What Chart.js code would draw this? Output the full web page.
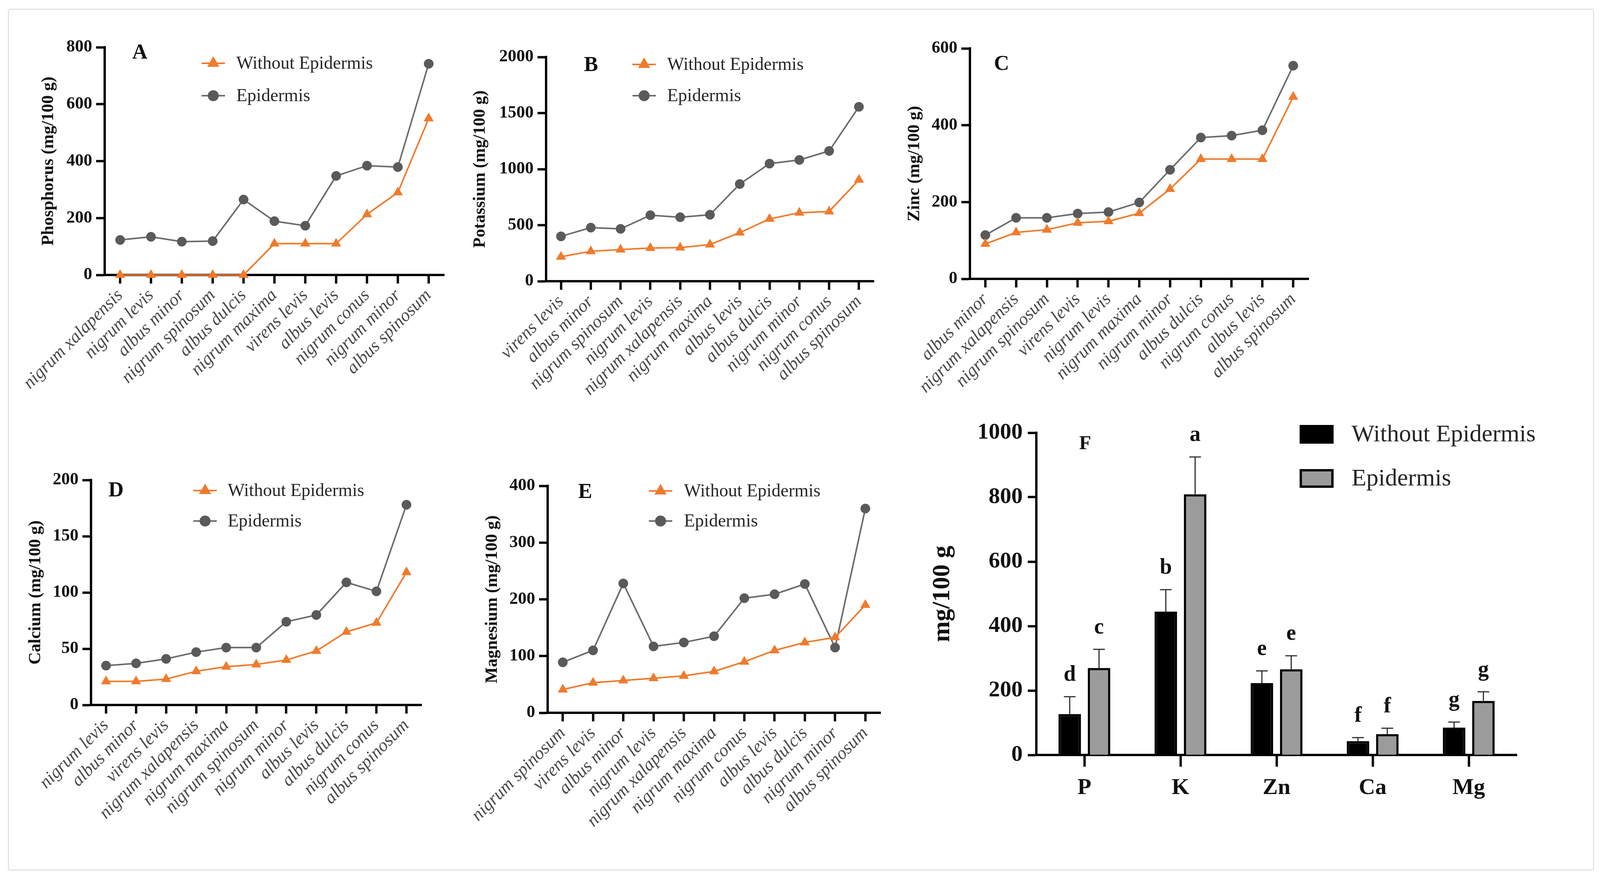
<!DOCTYPE html>
<html>
<head>
<meta charset="utf-8">
<script src="https://cdn.jsdelivr.net/npm/chart.js"></script>
<style>
html, body { margin: 0; padding: 0; background: #fff; }
body { width: 4102px; height: 2248px; position: relative; overflow: hidden; }
#frame { position: absolute; left: 20px; top: 22px; width: 4055px; height: 2201px; border: 3px solid #e3e3e3; border-radius: 6px; }
canvas { position: absolute; }
</style>
</head>
<body>
<div id="frame"></div>
<canvas id="chartA"></canvas>
<canvas id="chartB"></canvas>
<canvas id="chartC"></canvas>
<canvas id="chartD"></canvas>
<canvas id="chartE"></canvas>
<canvas id="chartF"></canvas>
<script>
const serif = '"Liberation Serif", "Times New Roman", serif';
const orange = '#ef7b2d';
const grey = '#6c6c6c';
const greyDot = '#5a5a5a';
const withoutName = 'Without Epidermis';
const epidermisName = 'Epidermis';

// A - phosphorus
const phosLabels = ['nigrum xalapensis', 'nigrum levis', 'albus minor', 'nigrum spinosum', 'albus dulcis', 'nigrum maxima', 'virens levis', 'albus levis', 'nigrum conus', 'nigrum minor', 'albus spinosum'];
const phosWithout = [0, 0, 0, 0, 0, 110, 110, 110, 213, 290, 550];
const phosEpidermis = [123, 134, 117, 119, 265, 189, 173, 348, 384, 379, 742];
const phosAxis = [0, 800, 200];

// B - potassium
const potLabels = ['virens levis', 'albus minor', 'nigrum spinosum', 'nigrum levis', 'nigrum xalapensis', 'nigrum maxima', 'albus levis', 'albus dulcis', 'nigrum minor', 'nigrum conus', 'albus spinosum'];
const potWithout = [218, 267, 282, 296, 300, 327, 433, 556, 611, 622, 905];
const potEpidermis = [400, 478, 467, 589, 571, 593, 867, 1049, 1082, 1162, 1556];
const potAxis = [0, 2000, 500];

// C - zinc
const zincLabels = ['albus minor', 'nigrum xalapensis', 'nigrum spinosum', 'virens levis', 'nigrum levis', 'nigrum maxima', 'nigrum minor', 'albus dulcis', 'nigrum conus', 'albus levis', 'albus spinosum'];
const zincWithout = [91, 121, 128, 146, 150, 171, 234, 312, 312, 312, 474];
const zincEpidermis = [114, 159, 159, 170, 174, 199, 284, 368, 373, 387, 555];
const zincAxis = [0, 600, 200];

// D - calcium
const calLabels = ['nigrum levis', 'albus minor', 'virens levis', 'nigrum xalapensis', 'nigrum maxima', 'nigrum spinosum', 'nigrum minor', 'albus levis', 'albus dulcis', 'nigrum conus', 'albus spinosum'];
const calWithout = [21, 21, 23, 30, 34, 36, 40, 48, 65, 73, 118];
const calEpidermis = [35, 37, 41, 47, 51, 51, 74, 80, 109, 101, 178];
const calAxis = [0, 200, 50];

// E - magnesium
const magLabels = ['nigrum spinosum', 'virens levis', 'albus minor', 'nigrum levis', 'nigrum xalapensis', 'nigrum maxima', 'nigrum conus', 'albus levis', 'albus dulcis', 'nigrum minor', 'albus spinosum'];
const magWithout = [41, 53, 57, 61, 65, 73, 90, 110, 124, 133, 190];
const magEpidermis = [89, 110, 228, 117, 124, 135, 202, 209, 227, 115, 360];
const magAxis = [0, 400, 100];

// F - means per element
const elementLabels = ['P', 'K', 'Zn', 'Ca', 'Mg'];
const meanWithout = [127, 445, 223, 43, 85];
const errWithout = [54, 68, 38, 11, 17];
const lettersWithout = ['d', 'b', 'e', 'f', 'g'];
const meanEpidermis = [270, 809, 266, 65, 168];
const errEpidermis = [58, 116, 42, 18, 28];
const lettersEpidermis = ['c', 'a', 'e', 'f', 'g'];
const meanAxis = [0, 1000, 200];

function placeCanvas(id, box) {
    let c = document.getElementById(id);
    c.width = box.w;
    c.height = box.h;
    c.style.left = box.x + 'px';
    c.style.top = box.y + 'px';
    c.style.width = box.w + 'px';
    c.style.height = box.h + 'px';
    return c;
}

function axisStyle(tickLength) {
    return {
        grid: { display: true, drawOnChartArea: false, drawTicks: true, tickLength: tickLength, tickWidth: 6, tickColor: '#000', offset: false },
        border: { display: true, width: 6, color: '#000' }
    };
}

// plain numbers, no thousands separator
function plainTick(value) {
    return String(value);
}

// panel letter + legend, drawn in page coordinates
function notesPlugin(box, notes) {
    return {
        id: 'notes',
        afterDraw(chart) {
            const ctx = chart.ctx;
            ctx.save();
            ctx.translate(-box.x, -box.y);
            ctx.fillStyle = '#111';
            ctx.font = 'bold ' + notes.letterSize + 'px ' + serif;
            ctx.textAlign = 'center';
            ctx.textBaseline = 'middle';
            ctx.fillText(notes.letter, notes.letterAt[0], notes.letterAt[1]);
            (notes.legend || []).forEach((item) => {
                if (item.kind === 'line') {
                    ctx.strokeStyle = item.color;
                    ctx.lineWidth = 4;
                    ctx.beginPath();
                    ctx.moveTo(item.x - 30, item.y);
                    ctx.lineTo(item.x + 30, item.y);
                    ctx.stroke();
                    ctx.fillStyle = item.dot;
                    ctx.strokeStyle = item.dot;
                    Chart.helpers.drawPoint(ctx, { pointStyle: item.style, radius: item.radius, rotation: 0, borderWidth: 1 }, item.x, item.y);
                } else {
                    ctx.fillStyle = item.fill;
                    ctx.fillRect(item.x, item.y - 21, 81, 42);
                    ctx.strokeStyle = '#000';
                    ctx.lineWidth = 6;
                    ctx.strokeRect(item.x, item.y - 21, 81, 42);
                }
                ctx.fillStyle = '#262626';
                ctx.font = item.size + 'px ' + serif;
                ctx.textAlign = 'left';
                ctx.textBaseline = 'middle';
                ctx.fillText(item.text, item.tx, item.y + 2);
            });
            ctx.restore();
        }
    };
}

function lineLegend(x, y1, y2, tx) {
    return [
        { kind: 'line', x: x, y: y1, tx: tx, color: orange, dot: orange, style: 'triangle', radius: 14, text: withoutName, size: 46 },
        { kind: 'line', x: x, y: y2, tx: tx, color: grey, dot: greyDot, style: 'circle', radius: 12, text: epidermisName, size: 46 }
    ];
}

function linePanel(id, box, area, labels, without, epidermis, range, yTitle, titleX, notes) {
    let canvas = placeCanvas(id, box);
    let yWidth = area.left - box.x;
    let xHeight = box.y + box.h - area.bottom;
    return new Chart(canvas, {
        type: 'line',
        data: {
            labels: labels,
            datasets: [
                { label: withoutName, data: without, borderColor: orange, backgroundColor: orange, pointBackgroundColor: orange, pointBorderColor: orange,
                  pointStyle: 'triangle', pointRadius: 14, pointBorderWidth: 1, borderWidth: 4, tension: 0, clip: false },
                { label: epidermisName, data: epidermis, borderColor: grey, backgroundColor: greyDot, pointBackgroundColor: greyDot, pointBorderColor: greyDot,
                  pointStyle: 'circle', pointRadius: 12, pointBorderWidth: 1, borderWidth: 4, tension: 0, clip: false }
            ]
        },
        options: {
            responsive: false,
            animation: false,
            devicePixelRatio: 1,
            layout: { padding: { left: 0, top: area.top - box.y, right: box.x + box.w - area.right, bottom: 0 } },
            plugins: { legend: { display: false }, tooltip: { enabled: false } },
            scales: {
                x: Object.assign({
                    type: 'category',
                    offset: true,
                    ticks: { autoSkip: false, minRotation: 45, maxRotation: 45, padding: 4, color: '#4a4a4a',
                             font: { family: serif, size: 46, style: 'italic' } },
                    afterFit: (s) => { s.height = xHeight; s.paddingLeft = 0; s.paddingRight = 0; }
                }, axisStyle(22)),
                y: Object.assign({
                    min: range[0],
                    max: range[1],
                    ticks: { stepSize: range[2], padding: 10, color: '#111', callback: plainTick,
                             font: { family: serif, size: 44, weight: 'bold' } },
                    title: { display: true, text: yTitle, color: '#111', font: { family: serif, size: 44, weight: 'bold' },
                             padding: { top: titleX - box.x - 26.4, bottom: 0 } },
                    afterFit: (s) => { s.width = yWidth; }
                }, axisStyle(22))
            }
        },
        plugins: [notesPlugin(box, notes)]
    });
}

linePanel('chartA', { x: 0, y: 60, w: 1160, h: 1000 }, { left: 268, top: 121, right: 1137, bottom: 704 },
    phosLabels, phosWithout, phosEpidermis, phosAxis, 'Phosphorus (mg/100 g)', 125,
    { letter: 'A', letterSize: 54, letterAt: [358, 136], legend: lineLegend(546, 162, 245, 605) });

linePanel('chartB', { x: 1160, y: 60, w: 1120, h: 1000 }, { left: 1398, top: 146, right: 2237, bottom: 720 },
    potLabels, potWithout, potEpidermis, potAxis, 'Potassium (mg/100 g)', 1230,
    { letter: 'B', letterSize: 54, letterAt: [1513, 168], legend: lineLegend(1649, 165, 245, 1708) });

linePanel('chartC', { x: 2290, y: 60, w: 1120, h: 1000 }, { left: 2483, top: 124, right: 3350, bottom: 714 },
    zincLabels, zincWithout, zincEpidermis, zincAxis, 'Zinc (mg/100 g)', 2342,
    { letter: 'C', letterSize: 54, letterAt: [2564, 165], legend: [] });

linePanel('chartD', { x: 0, y: 1150, w: 1160, h: 1000 }, { left: 233, top: 1229, right: 1079, bottom: 1805 },
    calLabels, calWithout, calEpidermis, calAxis, 'Calcium (mg/100 g)', 92,
    { letter: 'D', letterSize: 54, letterAt: [297, 1257], legend: lineLegend(525, 1256, 1334, 583) });

linePanel('chartE', { x: 1160, y: 1150, w: 1150, h: 1000 }, { left: 1402, top: 1244, right: 2254, bottom: 1825 },
    magLabels, magWithout, magEpidermis, magAxis, 'Magnesium (mg/100 g)', 1261,
    { letter: 'E', letterSize: 54, letterAt: [1498, 1261], legend: lineLegend(1691, 1257, 1334, 1751) });

// error bars and significance letters for panel F
const errorBars = {
    id: 'errorBars',
    afterDatasetsDraw(chart) {
        const ctx = chart.ctx;
        const yScale = chart.scales.y;
        chart.data.datasets.forEach((ds, i) => {
            chart.getDatasetMeta(i).data.forEach((bar, j) => {
                let top = yScale.getPixelForValue(ds.data[j] + ds.errors[j]);
                ctx.save();
                ctx.strokeStyle = '#333';
                ctx.lineWidth = 3;
                ctx.beginPath();
                ctx.moveTo(bar.x, bar.y);
                ctx.lineTo(bar.x, top);
                ctx.moveTo(bar.x - 15, top);
                ctx.lineTo(bar.x + 15, top);
                ctx.stroke();
                ctx.fillStyle = '#111';
                ctx.font = 'bold 56px ' + serif;
                ctx.textAlign = 'center';
                ctx.textBaseline = 'middle';
                ctx.fillText(ds.letters[j], bar.x, top - 55);
                ctx.restore();
            });
        });
    }
};

const boxF = { x: 2330, y: 1030, w: 1700, h: 1130 };
const areaF = { left: 2653, top: 1108, right: 3883, bottom: 1933 };
new Chart(placeCanvas('chartF', boxF), {
    type: 'bar',
    data: {
        labels: elementLabels,
        datasets: [
            { label: withoutName, data: meanWithout, errors: errWithout, letters: lettersWithout,
              backgroundColor: '#000', borderColor: '#000', borderWidth: 6 },
            { label: epidermisName, data: meanEpidermis, errors: errEpidermis, letters: lettersEpidermis,
              backgroundColor: '#9b9b9b', borderColor: '#000', borderWidth: 6 }
        ]
    },
    options: {
        responsive: false,
        animation: false,
        devicePixelRatio: 1,
        categoryPercentage: 0.61,
        barPercentage: 0.77,
        layout: { padding: { left: 0, top: areaF.top - boxF.y, right: boxF.x + boxF.w - areaF.right, bottom: 0 } },
        plugins: { legend: { display: false }, tooltip: { enabled: false } },
        scales: {
            x: Object.assign({
                ticks: { padding: 20, color: '#111', font: { family: serif, size: 58, weight: 'bold' } },
                afterFit: (s) => { s.height = boxF.y + boxF.h - areaF.bottom; s.paddingLeft = 0; s.paddingRight = 0; }
            }, axisStyle(30)),
            y: Object.assign({
                min: meanAxis[0],
                max: meanAxis[1],
                ticks: { stepSize: meanAxis[2], padding: 13, color: '#111', callback: plainTick,
                         font: { family: serif, size: 58, weight: 'bold' } },
                title: { display: true, text: 'mg/100 g', color: '#111', font: { family: serif, size: 64, weight: 'bold' },
                         padding: { top: 2413 - boxF.x - 38.4, bottom: 0 } },
                afterFit: (s) => { s.width = areaF.left - boxF.x; }
            }, axisStyle(22))
        }
    },
    plugins: [errorBars, notesPlugin(boxF, {
        letter: 'F', letterSize: 50, letterAt: [2778, 1137],
        legend: [
            { kind: 'box', fill: '#000', x: 3330, y: 1112, tx: 3460, text: withoutName, size: 62 },
            { kind: 'box', fill: '#9b9b9b', x: 3330, y: 1225, tx: 3460, text: epidermisName, size: 62 }
        ]
    })]
});
</script>
</body>
</html>
